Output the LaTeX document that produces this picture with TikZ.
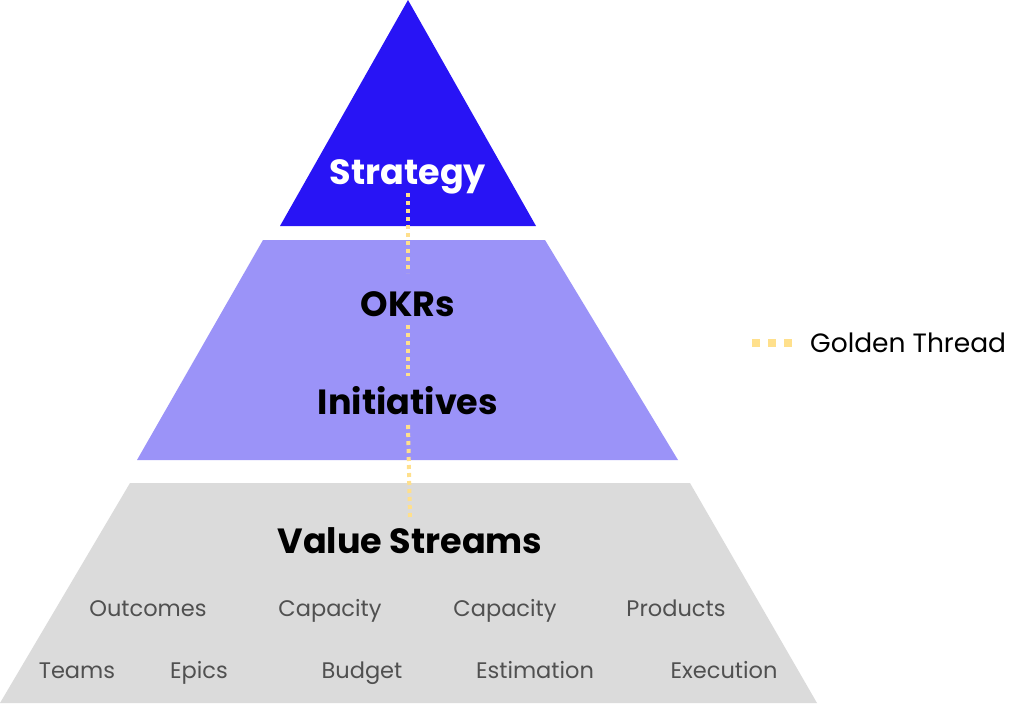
\documentclass[tikz,border=0pt]{standalone}
\usepackage{fontspec}
\setmainfont{Poppins}
\usetikzlibrary{calc}
\definecolor{topblue}{RGB}{40,20,245}
\definecolor{midblue}{RGB}{155,147,248}
\definecolor{lowgray}{RGB}{219,219,219}
\definecolor{gold}{RGB}{255,224,140}
\definecolor{smallgray}{RGB}{80,80,80}
\begin{document}
\begin{tikzpicture}[x=1pt,y=-1pt,
  tier/.style={font=\fontsize{35}{35}\selectfont\bfseries, inner sep=0pt, anchor=base},
  item/.style={font=\fontsize{22.5}{22.5}\selectfont, text=smallgray, inner sep=0pt, anchor=base},
  thread/.style={draw=gold, line width=4pt, dash pattern=on 4pt off 4pt}]
\useasboundingbox (0,0) rectangle (1024,704);
\fill[topblue] (408,0) -- (536,226) -- (280,226) -- cycle;
\fill[midblue] (263,240) -- (545,240) -- (678,460) -- (137,460) -- cycle;
\fill[lowgray] (130,483) -- (690,483) -- (817,703) -- (0,703) -- cycle;

\node[tier, text=white] (strat) at (408,184) {Strategy};
\node[tier] (okr) at (408,316) {OKRs};
\node[tier] (init) at (408,414) {Initiatives};
\node[tier] (vs) at (410,553) {Value Streams};

\draw[thread] ($(strat.base)+(0,9)$) -- ($(okr.base)+(0,-43)$);
\draw[thread] ($(okr.base)+(0,9)$) -- ($(init.base)+(0,-38)$);
\draw[thread] ($(init.base)+(0,11)$) -- ($(vs.base)+(0,-35)$);

\node[item] (o1) at (148,616) {Outcomes};
\node[item] (o2) at (330,616) {Capacity};
\node[item] (o3) at (505,616) {Capacity};
\node[item] (o4) at (676,616) {Products};
\node[item] (t1) at (77,678) {Teams};
\node[item] (t2) at (199,678) {Epics};
\node[item] (t3) at (362,678) {Budget};
\node[item] (t4) at (535,678) {Estimation};
\node[item] (t5) at (724,678) {Execution};

\coordinate (la) at (752,343);
\coordinate (lb) at (796,343);
\draw[draw=gold, line width=8pt, dash pattern=on 8pt off 8pt] (la) -- (lb);
\node[anchor=base west, font=\fontsize{26.5}{26.5}\selectfont, inner sep=0pt] (leg) at (810,352) {Golden Thread};
\end{tikzpicture}
\end{document}
